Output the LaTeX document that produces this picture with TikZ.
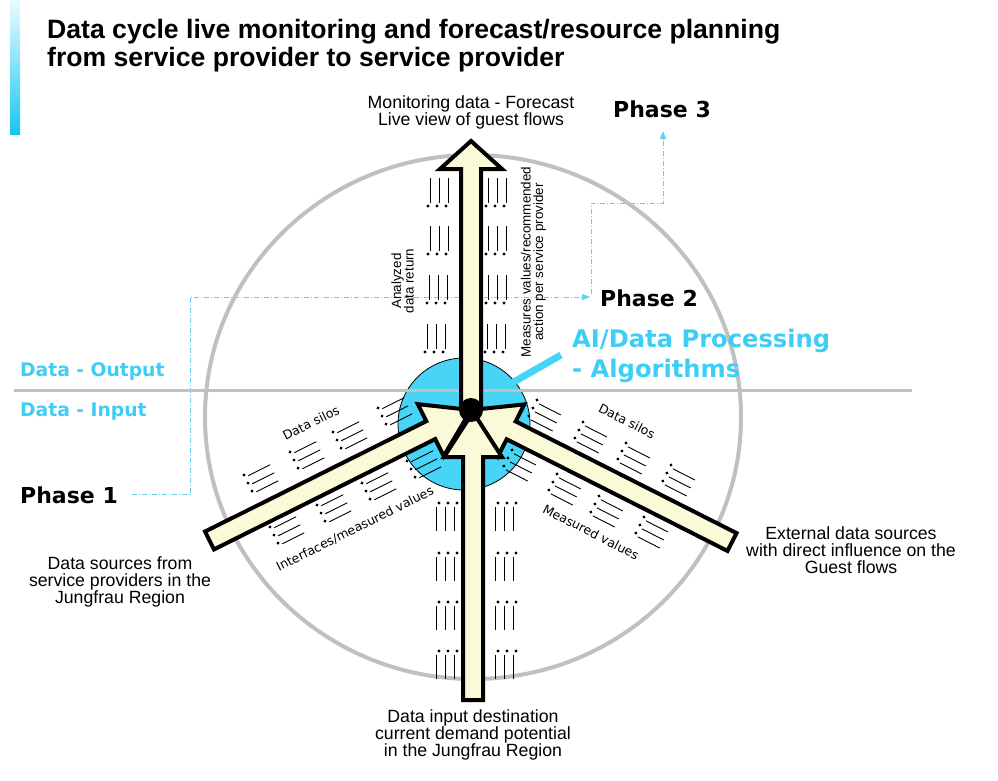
\documentclass[tikz,border=0pt]{standalone}
\usepackage{fontspec}
\setmainfont{Liberation Sans}
\newfontfamily\dvs{DejaVu Sans}
\usetikzlibrary{arrows.meta}
\definecolor{cyantxt}{RGB}{62,206,245}
\definecolor{hubblue}{RGB}{72,212,246}
\definecolor{cream}{RGB}{250,250,216}
\definecolor{ringgray}{RGB}{192,192,192}
\definecolor{dashcyan}{RGB}{100,205,238}
\definecolor{bartop}{RGB}{236,251,254}
\definecolor{barbot}{RGB}{24,198,242}

% group of three bullet rows: origin = first dot, angle = direction of the lines
\newcommand\blist[3]{%
  \begin{scope}[shift={(#1,#2)},rotate=#3]
    \foreach \r in {0,9,18}{%
      \fill (0,\r) circle[radius=1.6pt];
      \draw[line width=0.9pt] (3.5,\r+2.5) -- (28,\r+2.5);
    }
  \end{scope}}

% block arrow: tail x, tail y, angle, length, head length, head half width
\newcommand\barrow[6]{%
  \begin{scope}[shift={(#1,#2)},rotate=#3]
    \draw[arrowbody] (0,-10) -- ({#4-#5},-10) -- ({#4-#5},-#6) -- (#4,0)
      -- ({#4-#5},#6) -- ({#4-#5},10) -- (0,10) -- cycle;
  \end{scope}}

\begin{document}
\begin{tikzpicture}[x=1pt,y=-1pt,
  arrowbody/.style={fill=cream, draw=black, line width=4pt, line join=miter},
  desclbl/.style={font=\fontsize{17.7}{17}\selectfont, inner sep=0pt, align=center},
  diaglbl/.style={font=\dvs\fontsize{12.5}{13}\selectfont, inner sep=0pt},
  vertlbl/.style={font=\fontsize{13.4}{12.5}\selectfont, inner sep=0pt, align=center, rotate=90},
  phaselbl/.style={font=\dvs\bfseries\fontsize{22}{24}\selectfont, inner sep=0pt, anchor=base west},
  iolbl/.style={font=\dvs\bfseries\fontsize{18.7}{20}\selectfont, text=cyantxt, inner sep=0pt, anchor=base west},
  ailbl/.style={font=\dvs\bfseries\fontsize{24.2}{26}\selectfont, text=cyantxt, inner sep=0pt, anchor=base west},
  titlelbl/.style={font=\bfseries\fontsize{26.6}{30}\selectfont, inner sep=0pt, anchor=base west},
  dashln/.style={draw=dashcyan, line width=1pt, dash pattern=on 5pt off 2pt on 1pt off 2pt},
  cyantip/.style={-{Triangle[length=8pt,width=6pt]}}
]
\useasboundingbox (0,0) rectangle (998,780);

% left gradient bar
\shade[top color=bartop, bottom color=barbot] (10,0) rectangle (20,134);

% title
\node[titlelbl] (t1) at (47,38) {Data cycle live monitoring and forecast/resource planning};
\node[titlelbl] (t2) at (47,66) {from service provider to service provider};

% phase labels
\node[phaselbl] (ph3) at (613,117) {Phase 3};
\node[phaselbl] (ph2) at (600,306) {Phase 2};
\node[phaselbl] (ph1) at (20,503) {Phase 1};

% dash-dot phase connectors
\coordinate (p2in) at (590,297);
\coordinate (p2out) at (591,294);
\coordinate (p3in) at (663,131);
\draw[dashln, cyantip] ([xshift=14pt]ph1.east) -| (190,297) -- (p2in);
\draw[dashln, cyantip] (p2out) |- (663,203) -- (p3in);

% big ring
\draw[ringgray, line width=4pt] (473,417) ellipse [x radius=268pt, y radius=262pt];

% hub
\node[circle, fill=hubblue, draw=black, line width=0.8pt, minimum size=132pt, inner sep=0pt] (hub) at (464,424) {};
\draw[hubblue, line width=7pt, shorten >=-4pt] (561,355) -- (hub.40);

% horizontal separator
\draw[ringgray, line width=3pt] (14,390) -- (912,390);

% I/O labels
\node[iolbl] (dout) at (20,376) {Data - Output};
\node[iolbl] (din) at (20,416) {Data - Input};

% AI label
\node[ailbl] (ai1) at (572,347) {AI/Data Processing};
\node[ailbl] (ai2) at (572,377) {- Algorithms};

% bullet groups along the output arrow
\blist{428}{206}{90}\blist{428}{254}{90}\blist{427}{303}{90}\blist{425}{352}{90}
\blist{486}{206}{90}\blist{486}{254}{90}\blist{486}{303}{90}\blist{485}{352}{90}
% along the bottom arrow
\blist{457}{503}{-90}\blist{457}{553}{-90}\blist{457}{602}{-90}\blist{457}{651}{-90}
\blist{516}{503}{-90}\blist{516}{553}{-90}\blist{516}{602}{-90}\blist{516}{651}{-90}
% along the left arrow
\blist{244}{475}{26.5}\blist{290}{452}{26.5}\blist{333}{432}{26.5}\blist{378}{408}{26.5}
\blist{270}{527}{26.5}\blist{317}{505}{26.5}\blist{362}{483}{26.5}\blist{407}{461}{26.5}
% along the right arrow
\blist{537}{400}{-27}\blist{583}{422}{-27}\blist{626}{443}{-27}\blist{671}{465}{-27}
\blist{512}{450}{-27}\blist{557}{474}{-27}\blist{599}{496}{-27}\blist{644}{517}{-27}

% block arrows
\barrow{471}{412}{90}{271}{28}{31}
\barrow{209.5}{540.5}{26.52}{292.3}{45}{29}
\barrow{732}{542}{153.17}{292.5}{45}{29}
\barrow{473}{700}{90}{288}{45}{29}

% core dot
\node[circle, fill=black, minimum size=24pt, inner sep=0pt] (core) at (471,410) {};

% arrow descriptions
\node[desclbl] (mon) at (471,112.5) {Monitoring data - Forecast\\Live view of guest flows};
\node[desclbl] (src) at (120,581.5) {Data sources from\\service providers in the\\Jungfrau Region};
\node[desclbl] (ext) at (851,550) {External data sources\\with direct influence on the\\Guest flows};
\node[desclbl] (inp) at (473,734.5) {Data input destination\\current demand potential\\in the Jungfrau Region};

% small labels
\node[diaglbl, rotate=26.5] (ds1) at (311,423) {Data silos};
\node[diaglbl, rotate=26.5] (ifc) at (355,529) {Interfaces/measured values};
\node[diaglbl, rotate=-27] (ds2) at (627,421) {Data silos};
\node[diaglbl, rotate=-27] (mv) at (591,532) {Measured values};
\node[vertlbl] (adr) at (402.5,281) {Analyzed\\data return};
\node[vertlbl] (mvr) at (533.5,262) {Measures values/recommended\\action per service provider};
\end{tikzpicture}
\end{document}
